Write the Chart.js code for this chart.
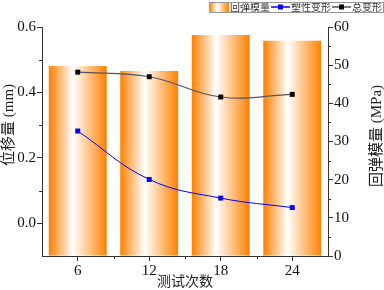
<!DOCTYPE html>
<html>
<head>
<meta charset="utf-8">
<script src="https://cdn.jsdelivr.net/npm/chart.js@4.4.1/dist/chart.umd.min.js"></script>
<style>
  html, body { margin: 0; padding: 0; background: #fff; }
</style>
</head>
<body>
<canvas id="chart" width="384" height="290"></canvas>
<script>
// data
const categories = ['6', '12', '18', '24'];
const modulus = [49.8, 48.5, 57.9, 56.4];          // 回弹模量 (MPa), right axis
const plasticDef = [0.282, 0.134, 0.077, 0.048];   // 塑性变形 (mm), left axis
const totalDef = [0.462, 0.448, 0.386, 0.394];     // 总变形 (mm), left axis
const leftTicks = [0, 0.2, 0.4, 0.6];
const leftMinor = [0.1, 0.3, 0.5];
const rightMinor = [5, 15, 25, 35, 45, 55];
const seriesNames = ['回弹模量', '塑性变形', '总变形'];

const ORANGE = '#ff8000';
const AXIS = '#333';
const SERIF = "'Liberation Serif', 'Times New Roman', serif";
const MIXED = "'Liberation Serif', 'Noto Sans CJK SC', serif";
const BAR_FRACTION = 0.9 * 0.9;

// horizontal orange -> white -> orange fill across each bar
function barGradient(c) {
  const chart = c.chart;
  const x = chart.scales.x;
  if (!x || c.dataIndex === undefined) return ORANGE;
  const half = (x.right - x.left) / categories.length * BAR_FRACTION / 2;
  const cx = x.getPixelForValue(c.dataIndex);
  if (!isFinite(cx) || !isFinite(half) || half <= 0) return ORANGE;
  const g = chart.ctx.createLinearGradient(cx - half, 0, cx + half, 0);
  g.addColorStop(0, ORANGE);
  g.addColorStop(0.42, '#ffffff');
  g.addColorStop(1, ORANGE);
  return g;
}

const minorTicks = {
  id: 'minorTicks',
  afterDraw(chart) {
    const { ctx, scales: { x, y, y1 } } = chart;
    ctx.save();
    ctx.strokeStyle = AXIS;
    ctx.lineWidth = 1;
    ctx.beginPath();
    leftMinor.forEach(v => {
      const p = Math.round(y.getPixelForValue(v)) + 0.5;
      ctx.moveTo(y.right, p); ctx.lineTo(y.right - 3, p);
    });
    rightMinor.forEach(v => {
      const p = Math.round(y1.getPixelForValue(v)) + 0.5;
      ctx.moveTo(y1.left, p); ctx.lineTo(y1.left + 3, p);
    });
    for (let i = 1; i < categories.length; i++) {
      const p = Math.round(x.getPixelForValue(i - 0.5)) + 0.5;
      ctx.moveTo(p, x.top); ctx.lineTo(p, x.top + 3);
    }
    ctx.stroke();
    ctx.restore();
  }
};

const axisTitles = {
  id: 'axisTitles',
  afterDraw(chart) {
    const { ctx, chartArea } = chart;
    ctx.save();
    ctx.fillStyle = '#222';
    ctx.textAlign = 'center';
    ctx.textBaseline = 'middle';
    ctx.font = '15px ' + MIXED;
    ctx.save();
    ctx.translate(9, 125);
    ctx.rotate(-Math.PI / 2);
    ctx.fillText('位移量 (mm)', 0, 0);
    ctx.restore();
    ctx.save();
    ctx.translate(377, 136);
    ctx.rotate(-Math.PI / 2);
    ctx.fillText('回弹模量 (MPa)', 0, 0);
    ctx.restore();
    ctx.font = '14px ' + MIXED;
    ctx.fillText('测试次数', (chartArea.left + chartArea.right) / 2, 282);
    ctx.restore();
  }
};

// boxed legend at the top right
const boxLegend = {
  id: 'boxLegend',
  afterDraw(chart) {
    const ctx = chart.ctx;
    const top = 2, h = 10, mid = top + h / 2;
    ctx.save();
    ctx.font = "10px 'Noto Sans CJK SC', sans-serif";
    ctx.textBaseline = 'middle';
    let x = 209;
    const g = ctx.createLinearGradient(x, 0, x + 20, 0);
    g.addColorStop(0, ORANGE);
    g.addColorStop(0.42, '#ffffff');
    g.addColorStop(1, ORANGE);
    ctx.fillStyle = g;
    ctx.fillRect(x, top, 20, h);
    x += 21;
    ctx.fillStyle = '#333';
    ctx.fillText(seriesNames[0], x, mid + 0.5);
    x += ctx.measureText(seriesNames[0]).width + 1;
    [[seriesNames[1], '#0000ff', '#0000ff'], [seriesNames[2], '#555', '#000']].forEach(([name, line, pt]) => {
      ctx.strokeStyle = line;
      ctx.lineWidth = 1.5;
      ctx.beginPath();
      ctx.moveTo(x, mid); ctx.lineTo(x + 19, mid);
      ctx.stroke();
      ctx.fillStyle = pt;
      ctx.fillRect(x + 7, mid - 2.5, 5, 5);
      x += 20;
      ctx.fillStyle = '#333';
      ctx.fillText(name, x, mid + 0.5);
      x += ctx.measureText(name).width + 1;
    });
    ctx.strokeStyle = '#999';
    ctx.lineWidth = 1;
    ctx.strokeRect(209.5, top + 0.5, Math.min(x + 2, 383) - 209, h);
    ctx.restore();
  }
};

const tickFont = { family: SERIF, size: 15 };

const chart = new Chart(document.getElementById('chart'), {
  type: 'bar',
  data: {
    labels: categories,
    datasets: [
      {
        type: 'bar',
        label: seriesNames[0],
        data: modulus,
        yAxisID: 'y1',
        backgroundColor: barGradient,
        borderWidth: 0,
        barPercentage: 0.9,
        categoryPercentage: 0.9,
        order: 2
      },
      {
        type: 'line',
        label: seriesNames[1],
        data: plasticDef,
        yAxisID: 'y',
        borderColor: '#0000ff',
        borderWidth: 1,
        tension: 0.4,
        pointStyle: 'rect',
        pointRadius: 3.5,
        pointBackgroundColor: '#0000ff',
        pointBorderWidth: 0,
        order: 1
      },
      {
        type: 'line',
        label: seriesNames[2],
        data: totalDef,
        yAxisID: 'y',
        borderColor: '#555',
        borderWidth: 1.2,
        tension: 0.4,
        pointStyle: 'rect',
        pointRadius: 3.5,
        pointBackgroundColor: '#000',
        pointBorderWidth: 0,
        order: 0
      }
    ]
  },
  options: {
    responsive: false,
    animation: false,
    devicePixelRatio: 1,
    layout: { padding: { top: 27, left: 0, right: 0, bottom: 0 } },
    plugins: { legend: { display: false }, tooltip: { enabled: false } },
    scales: {
      x: {
        type: 'category',
        offset: true,
        grid: { offset: false, drawOnChartArea: false, tickLength: 5, color: AXIS },
        border: { color: AXIS },
        ticks: { font: tickFont, color: '#111', padding: 1 },
        afterFit(s) { s.height = 34; }
      },
      y: {
        position: 'left',
        min: -0.1,
        max: 0.6,
        afterBuildTicks(s) { s.ticks = leftTicks.map(v => ({ value: v })); },
        grid: { drawOnChartArea: false, tickLength: 5, color: AXIS },
        border: { color: AXIS },
        ticks: { font: tickFont, color: '#111', padding: 1, callback: v => v.toFixed(1) },
        afterFit(s) { s.width = 42; }
      },
      y1: {
        position: 'right',
        min: 0,
        max: 60,
        grid: { drawOnChartArea: false, tickLength: 5, color: AXIS },
        border: { color: AXIS },
        ticks: { font: tickFont, color: '#111', padding: 1, stepSize: 10 },
        afterFit(s) { s.width = 56; }
      }
    }
  },
  plugins: [minorTicks, axisTitles, boxLegend]
});
// second pass so the bar gradients see the laid-out x scale
chart.update('none');
</script>
